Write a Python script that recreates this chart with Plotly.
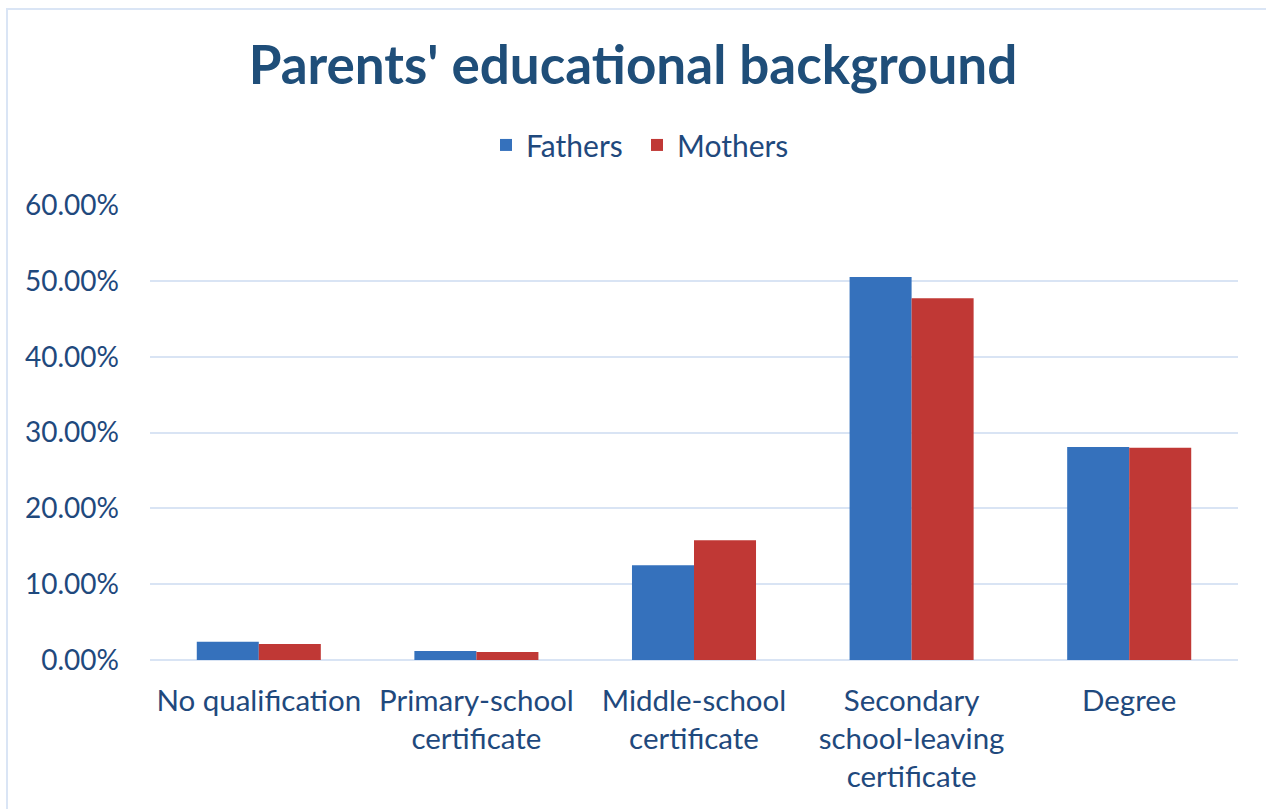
import plotly.graph_objects as go

categories = ["No qualification", "Primary-school<br>certificate", "Middle-school<br>certificate",
              "Secondary<br>school-leaving<br>certificate", "Degree"]
fathers = [2.4, 1.2, 12.5, 50.5, 28.1]
mothers = [2.1, 1.05, 15.8, 47.7, 28.0]
y_ticks = [0, 10, 20, 30, 40, 50, 60]
y_tick_labels = ["0.00%", "10.00%", "20.00%", "30.00%", "40.00%", "50.00%", "60.00%"]

TXT = "#1F497D"
FONT = "Lato, 'Open Sans', sans-serif"

fig = go.Figure()
fig.add_trace(go.Bar(name="Fathers", x=categories, y=fathers, legend="legend",
                     marker=dict(color="#3571BC", line=dict(width=0))))
fig.add_trace(go.Bar(name="Mothers", x=categories, y=mothers, legend="legend2",
                     marker=dict(color="#C03835", line=dict(width=0))))

leg_common = dict(orientation="h", xanchor="left", y=1.132, yanchor="middle",
                  font=dict(size=30, color=TXT), itemwidth=30, bgcolor="rgba(0,0,0,0)")

fig.update_layout(
    width=1266, height=809,
    margin=dict(l=150, r=28, t=205, b=149),
    paper_bgcolor="white", plot_bgcolor="white",
    barmode="group", bargap=0.43, bargroupgap=0,
    font=dict(family=FONT, color=TXT, size=29),
    title=dict(text="<b>Parents' educational background</b>", x=0.5, xanchor="center",
               y=1 - 65 / 809, yanchor="middle",
               font=dict(family=FONT, size=53, color="#1F4E79")),
    legend=dict(x=(486 - 150) / 1088, **leg_common),
    legend2=dict(x=(637 - 150) / 1088, **leg_common),
    showlegend=True,
)
fig.update_yaxes(range=[0, 60.01], tickvals=y_ticks, ticktext=y_tick_labels,
                 showgrid=True, gridcolor="#D9E4F4", gridwidth=2,
                 zeroline=True, zerolinecolor="#D9E4F4", zerolinewidth=2,
                 showline=False, ticks="", ticklabelstandoff=30,
                 tickfont=dict(size=28, color=TXT))
fig.update_xaxes(showline=False, ticks="", ticklabelstandoff=20,
                 tickfont=dict(size=29.5, color=TXT), tickangle=0)

fig.add_shape(type="rect", xref="paper", yref="paper",
              x0=(7 - 150) / 1088, x1=(1300 - 150) / 1088,
              y0=(660 - 850) / 455, y1=(660 - 9) / 455,
              line=dict(color="#DAE5F5", width=2), fillcolor="rgba(0,0,0,0)", layer="below")

fig.write_html("out.html", config={"displayModeBar": False},
               post_script="document.body.style.margin='0';document.body.style.overflow='hidden';")
